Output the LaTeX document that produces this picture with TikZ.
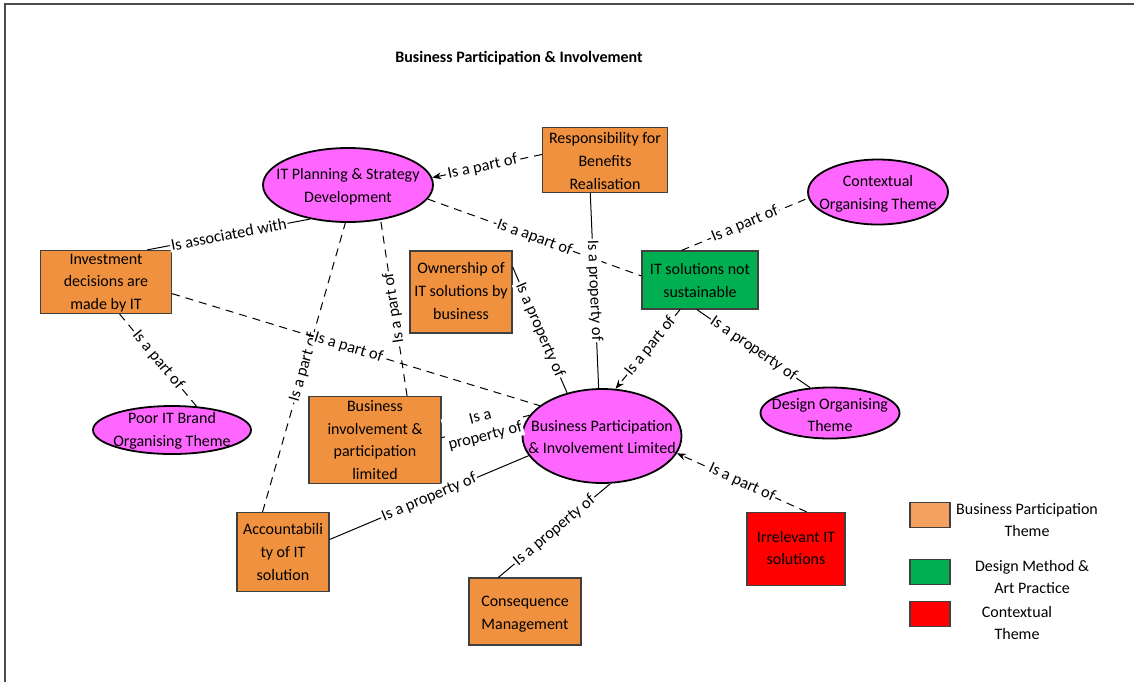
\documentclass[tikz,border=0pt]{standalone}
\usepackage{fontspec}
\setmainfont{Carlito}
\usetikzlibrary{shapes.geometric,arrows.meta}
\definecolor{themeorange}{RGB}{240,145,64}
\definecolor{legendorange}{RGB}{245,160,95}
\definecolor{themegreen}{RGB}{0,176,80}
\definecolor{themered}{RGB}{255,0,0}
\definecolor{themepink}{RGB}{255,102,255}
\newcommand{\nodefont}{\fontsize{8}{11.4}\selectfont}
\newcommand{\relfont}{\fontsize{8.2}{10}\selectfont}
\tikzset{
  box/.style={draw=black!75, line width=0.6pt, rectangle, inner sep=0pt},
  oval/.style={draw=black, line width=0.9pt, ellipse, inner sep=0pt, fill=themepink},
  txt/.style={align=center, font=\nodefont, inner sep=0pt},
  rel/.style={sloped, fill=white, inner sep=0.6pt, font=\relfont, pos=0.5},
  dashedline/.style={dash pattern=on 4pt off 3pt, line width=0.5pt},
  solidline/.style={line width=0.5pt},
  arr/.style={-{Stealth[length=4.5pt,width=3.4pt]}},
}
\begin{document}
\begin{tikzpicture}[x=0.5pt,y=-0.5pt]
\useasboundingbox (0,0) rectangle (1134,682);
% frame
\draw[line width=1pt, black!70] (5,682) -- (5,4) -- (1134,4);

% title
\node[font=\bfseries\fontsize{8}{10}\selectfont, inner sep=0pt] (title) at (519,58) {Business Participation \& Involvement};

% concept ellipses
\node[oval, minimum width=85pt, minimum height=37pt] (itp) at (348,185) {};
\node[txt] (itp-t) at (348,186.5) {IT Planning \& Strategy\\Development};
\node[oval, minimum width=70pt, minimum height=32.5pt] (ctx) at (878,192) {};
\node[txt] (ctx-t) at (878,193.5) {Contextual\\Organising Theme};
\node[oval, minimum width=69.5pt, minimum height=25.5pt] (des) at (830,413) {};
\node[txt] (des-t) at (830,415) {Design Organising\\Theme};
\node[oval, minimum width=79pt, minimum height=24pt] (poor) at (172,430) {};
\node[txt] (poor-t) at (172,430.5) {Poor IT Brand\\Organising Theme};
\node[oval, minimum width=79.5pt, minimum height=47pt] (bpil) at (602,436) {};
\node[txt] (bpil-t) at (602,437) {Business Participation\\\& Involvement Limited};

% theme boxes
\node[box, fill=themeorange, minimum width=62.5pt, minimum height=32.5pt] (resp) at (605,160) {};
\node[txt] (resp-t) at (605,161) {Responsibility for\\Benefits\\Realisation};
\node[box, fill=themegreen, minimum width=58pt, minimum height=29pt] (its) at (700,280) {};
\node[txt] (its-t) at (700,280.5) {IT solutions not\\sustainable};
\node[box, fill=themeorange, minimum width=65.5pt, minimum height=31.5pt] (inv) at (106,282) {};
\node[txt] (inv-t) at (106,283) {Investment\\decisions are\\made by IT};
\node[box, fill=themeorange, minimum width=51pt, minimum height=41pt] (own) at (461,292) {};
\node[txt] (own-t) at (461,291) {Ownership of\\IT solutions by\\business};
\node[box, fill=themeorange, minimum width=66pt, minimum height=43.5pt] (bip) at (375,440) {};
\node[txt] (bip-t) at (375,440) {Business\\involvement \&\\participation\\limited};
\node[box, fill=themeorange, minimum width=46pt, minimum height=39.5pt] (acc) at (283,552) {};
\node[txt] (acc-t) at (283,552) {Accountabili\\ty of IT\\solution};
\node[box, fill=themeorange, minimum width=56pt, minimum height=33.5pt] (con) at (525,611.5) {};
\node[txt] (con-t) at (525,614) {Consequence\\Management};
\node[box, fill=themered, minimum width=49pt, minimum height=36.5pt] (irr) at (796,549) {};
\node[txt] (irr-t) at (796,548) {Irrelevant IT\\solutions};

% relations
\draw[dashedline, arr] (resp.175) -- node[rel, pos=0.54] (r1) {Is a part of} (itp.5);
\draw[solidline] (itp.222) -- node[rel] (r2) {Is associated with} (inv.38);
\draw[dashedline] (itp.350) -- node[rel] (r3) {Is a apart of} (its.176);
\draw[dashedline] (acc.117) -- node[rel] (r4) {Is a part of} (itp.266);
\draw[dashedline] (bip.54) -- node[rel, allow upside down] (r5) {Is a part of} (itp.313);
\draw[solidline] (resp.246) -- node[rel] (r6) {Is a property of} (bpil.94);
\draw[solidline] (own.26) -- node[rel] (r7) {Is a property of} (bpil.129);
\draw[dashedline] (its.122) -- node[rel] (r8) {Is a part of} (ctx.185);
\draw[dashedline, arr] (its.236) -- node[rel, pos=0.46] (r9) {Is a part of} (bpil.74);
\draw[solidline] (its.264) -- node[rel] (r10) {Is a property of} (des.128);
\draw[dashedline] (inv.350) -- node[rel, pos=0.48] (r11) {Is a part of} (bpil.154);
\draw[dashedline] (inv.293) -- node[rel] (r12) {Is a part of} (poor.44);
\draw[dashedline] (bip.2) -- node[rel, align=center, pos=0.47] (r13) {Is a\\property of} (bpil.164);
\draw[solidline] (acc.15) -- node[rel] (r14) {Is a property of} (bpil.195);
\draw[solidline] (con.128) -- node[rel] (r15) {Is a property of} (bpil.280);
\draw[dashedline, arr] (irr.74) -- node[rel, pos=0.5] (r16) {Is a part of} (bpil.347);

% legend
\node[box, fill=legendorange, minimum width=20pt, minimum height=12.5pt] (lg1) at (930,515) {};
\node[txt] (lg1-t) at (1027,520) {Business Participation\\Theme};
\node[box, fill=themegreen, minimum width=20pt, minimum height=12.5pt] (lg2) at (930,572) {};
\node[txt] (lg2-t) at (1032,577) {Design Method \&\\Art Practice};
\node[box, fill=themered, minimum width=20pt, minimum height=12.5pt] (lg3) at (930,614) {};
\node[txt] (lg3-t) at (1017,623) {Contextual\\Theme};
\end{tikzpicture}
\end{document}
